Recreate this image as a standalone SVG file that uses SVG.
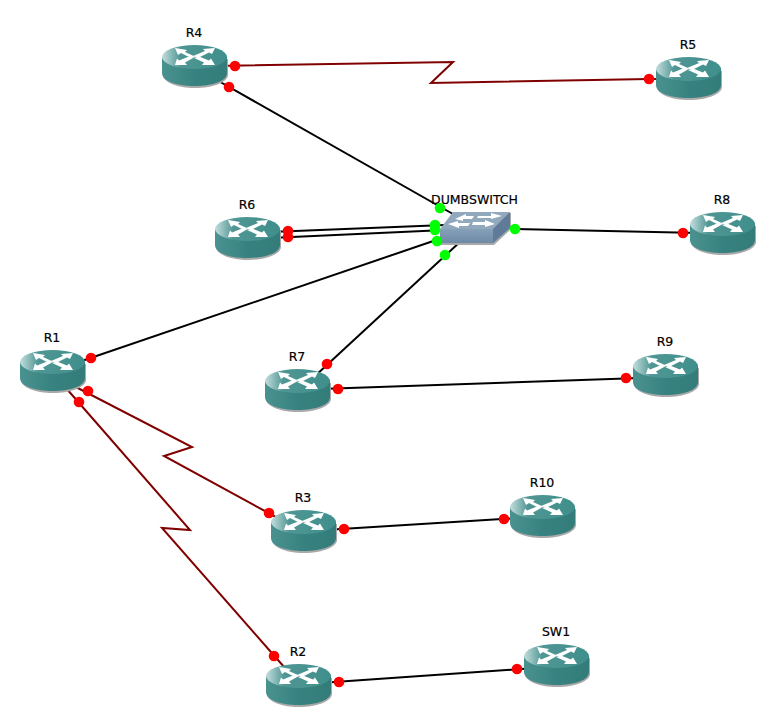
<svg xmlns="http://www.w3.org/2000/svg" width="776" height="728" viewBox="0 0 776 728">
<style>
text{font-family:"DejaVu Sans","Liberation Sans",sans-serif;font-size:12.5px;fill:#000;stroke:#000;stroke-width:.2;text-anchor:middle}
.eth{fill:none;stroke:#000;stroke-width:2}
.ser{fill:none;stroke:#800000;stroke-width:2}
.r{fill:#f00}.g{fill:#0f0}
</style>
<defs>
<linearGradient id="top" x1="0" x2="1" y1="0" y2="0"><stop offset="0" stop-color="#c4dedd"/><stop offset=".28" stop-color="#4f9694"/><stop offset="1" stop-color="#3f8f8c"/></linearGradient>
<linearGradient id="side" x1="0" x2="1" y1="0" y2="0"><stop offset="0" stop-color="#4a9290"/><stop offset=".5" stop-color="#378280"/><stop offset="1" stop-color="#337c7a"/></linearGradient>
<linearGradient id="front" x1="0" x2="0" y1="0" y2="1"><stop offset="0" stop-color="#86a0b9"/><stop offset="1" stop-color="#6f8aa6"/></linearGradient>
<g id="router">
<path d="M1 14V30C1 37 15 43 33 43S66 37 66 30V14Z" fill="#a9a9a9"/>
<path d="M0 12V28C0 36 14 41 32.500 41S65 36 65 28V12Z" fill="url(#side)"/>
<ellipse cx="32.500" cy="12" rx="32.500" ry="12" fill="url(#top)"/>
<g fill="#fff"><path d="M13 3L25 5L23 7L34 12L29 13L19 8L16 10Z"/><path d="M53 3L41 4L43 6L31 11L36 13L47 7.500L50 9Z"/><path d="M13 20L25 20L23 17.500L32 12.500L27 11.500L17 15.500L15 13.500Z"/><path d="M53 20L40 20L42 17.500L32 13L37 11.500L47 15.500L49 13.500Z"/></g>
</g>
</defs>
<g id="connectors">
<polyline class="ser" points="215,66 453,62 431,83 649,79 665,79"/>
<line class="eth" x1="215" y1="79" x2="460" y2="218"/>
<line class="eth" x1="270" y1="232" x2="445" y2="225"/>
<line class="eth" x1="270" y1="238" x2="445" y2="230"/>
<line class="eth" x1="515" y1="229" x2="700" y2="233"/>
<line class="eth" x1="70" y1="365" x2="445" y2="237"/>
<line class="eth" x1="315" y1="376" x2="461" y2="241"/>
<line class="eth" x1="320" y1="389" x2="640" y2="378"/>
<polyline class="ser" points="72,385 192,447 164,456 285,522"/>
<polyline class="ser" points="66,388 190,530 162,528 285,668"/>
<line class="eth" x1="325" y1="530" x2="520" y2="518"/>
<line class="eth" x1="320" y1="683" x2="535" y2="668"/>
</g>
<g id="R4"><use href="#router" x="162" y="45"/><text x="194" y="37">R4</text></g>
<g id="R5"><use href="#router" x="656" y="57"/><text x="688" y="49">R5</text></g>
<g id="R6"><use href="#router" x="215" y="217"/><text x="247" y="209">R6</text></g>
<g id="R8"><use href="#router" x="690" y="212"/><text x="722" y="204">R8</text></g>
<g id="R1"><use href="#router" x="20" y="350"/><text x="52" y="342">R1</text></g>
<g id="R7"><use href="#router" x="265" y="369"/><text x="297" y="361">R7</text></g>
<g id="R9"><use href="#router" x="633" y="354"/><text x="665" y="346">R9</text></g>
<g id="R3"><use href="#router" x="271" y="510"/><text x="303" y="502">R3</text></g>
<g id="R10"><use href="#router" x="510" y="495"/><text x="542" y="487">R10</text></g>
<g id="R2"><use href="#router" x="266" y="664"/><text x="298" y="656">R2</text></g>
<g id="SW1"><use href="#router" x="524" y="644"/><text x="556" y="636">SW1</text></g>
<g id="DUMBSWITCH">
<path d="M440 231L453 213H511V229L494 245H440Z" fill="#a9a9a9"/>
<path d="M440 229H493V243H440Z" fill="url(#front)"/>
<path d="M440 229L453 212H510L493 229Z" fill="#92a8bd"/>
<path d="M493 229L510 212V228L493 243Z" fill="#5f7b99"/>
<g fill="#fff"><path d="M455 219L466 214V216H474L472 219H463V221Z"/><path d="M478 216H491V213L502 216L491 219V218H477Z"/><path d="M448 224L458 221V223H470L468 226H459V228Z"/><path d="M473 222H485V220L495 224L485 227V225H472Z"/></g>
<text x="474.500" y="204">DUMBSWITCH</text>
</g>
<g id="endpoints">
<g class="r"><circle cx="235" cy="66" r="5.300"/><circle cx="649" cy="79" r="5.300"/><circle cx="229" cy="87" r="5.300"/><circle cx="288" cy="231" r="5.300"/><circle cx="288" cy="237" r="5.300"/><circle cx="683" cy="233" r="5.300"/><circle cx="91" cy="358" r="5.300"/><circle cx="327" cy="364" r="5.300"/><circle cx="338" cy="389" r="5.300"/><circle cx="626" cy="378" r="5.300"/><circle cx="88" cy="391" r="5.300"/><circle cx="79" cy="402" r="5.300"/><circle cx="269" cy="513" r="5.300"/><circle cx="344" cy="529" r="5.300"/><circle cx="504" cy="519" r="5.300"/><circle cx="274" cy="656" r="5.300"/><circle cx="339" cy="682" r="5.300"/><circle cx="517" cy="669" r="5.300"/></g>
<g class="g"><circle cx="440" cy="208" r="5.300"/><circle cx="435" cy="225" r="5.300"/><circle cx="435" cy="230" r="5.300"/><circle cx="437" cy="241" r="5.300"/><circle cx="445" cy="255" r="5.300"/><circle cx="515" cy="229" r="5.300"/></g>
</g>
</svg>
